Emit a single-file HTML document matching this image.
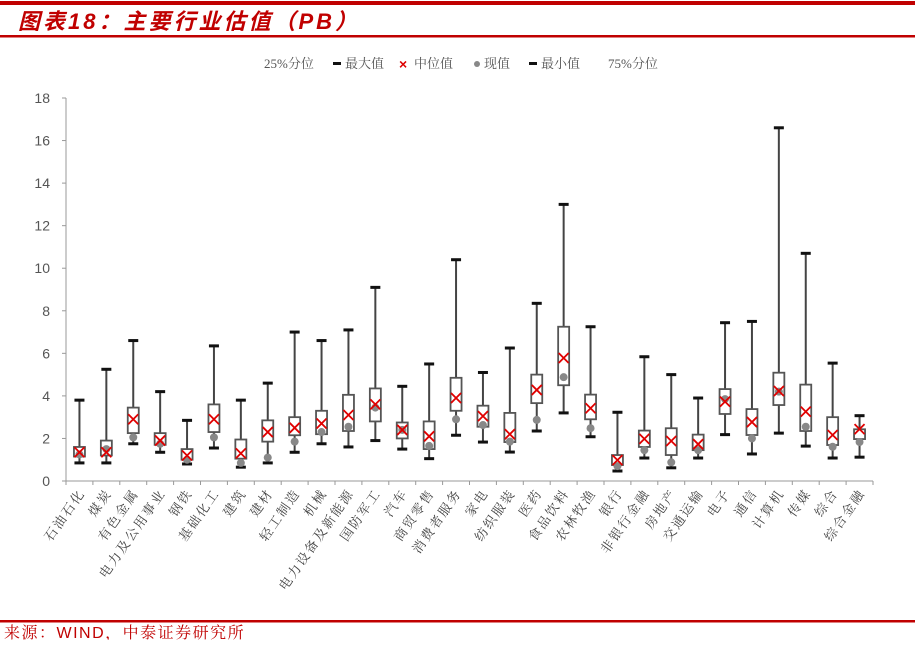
<!DOCTYPE html>
<html><head><meta charset="utf-8"><style>
body{margin:0;background:#fff;width:915px;height:640px;overflow:hidden;font-family:"Liberation Sans","Noto Sans CJK SC",sans-serif}
</style></head><body>
<svg id="c" width="915" height="640" xmlns="http://www.w3.org/2000/svg">
<rect x="0" y="1" width="915" height="4" fill="#c00000"/>
<text x="18" y="29" font-size="22" font-weight="bold" font-style="italic" letter-spacing="3" fill="#c00000" font-family="'Liberation Sans','Noto Sans CJK SC',sans-serif">图表18：主要行业估值（PB）</text>
<rect x="0" y="35" width="915" height="2.5" fill="#c00000"/>
<g font-family="'Liberation Serif','Noto Serif CJK SC',serif" font-size="13" fill="#555">
<text x="264" y="68">25%分位</text>
<rect x="333" y="62" width="8" height="3" fill="#111"/>
<text x="345" y="68">最大值</text>
<text x="399" y="69" fill="#d00" font-family="Liberation Sans" font-weight="bold" font-size="14">×</text>
<text x="414" y="68">中位值</text>
<circle cx="477" cy="64" r="3" fill="#888"/>
<text x="484" y="68">现值</text>
<rect x="529" y="62" width="8" height="3" fill="#111"/>
<text x="541" y="68">最小值</text>
<text x="608" y="68">75%分位</text>
</g>
<g id="plot"></g>
<rect x="0" y="620" width="915" height="2.5" fill="#c00000"/>
<text x="4" y="638" font-size="16" letter-spacing="1.5" fill="#c00000" font-family="'Liberation Sans','Noto Serif CJK SC',serif">来源：WIND，中泰证券研究所</text>
</svg>
<script>
const categories=["石油石化","煤炭","有色金属","电力及公用事业","钢铁","基础化工","建筑","建材","轻工制造","机械","电力设备及新能源","国防军工","汽车","商贸零售","消费者服务","家电","纺织服装","医药","食品饮料","农林牧渔","银行","非银行金融","房地产","交通运输","电子","通信","计算机","传媒","综合","综合金融"];
const maxVals=[3.8,5.25,6.6,4.2,2.85,6.35,3.8,4.6,7.0,6.6,7.1,9.1,4.45,5.5,10.4,5.1,6.25,8.35,13.0,7.25,3.23,5.84,5.0,3.9,7.44,7.5,16.6,10.7,5.54,3.07];
const q3Vals=[1.6,1.9,3.45,2.25,1.5,3.6,1.95,2.85,3.0,3.3,4.05,4.35,2.75,2.8,4.85,3.54,3.2,5.0,7.25,4.06,1.22,2.37,2.48,2.18,4.32,3.38,5.09,4.53,3.0,2.43];
const medianVals=[1.35,1.35,2.9,1.9,1.2,2.9,1.3,2.3,2.5,2.7,3.1,3.6,2.4,2.1,3.9,3.05,2.2,4.28,5.78,3.42,0.98,1.98,1.88,1.73,3.73,2.77,4.23,3.26,2.16,2.44];
const q1Vals=[1.15,1.2,2.25,1.7,1.0,2.3,1.05,1.85,2.15,2.2,2.35,2.8,2.0,1.5,3.3,2.55,1.83,3.66,4.5,2.9,0.75,1.6,1.22,1.45,3.15,2.16,3.57,2.35,1.69,1.97];
const minVals=[0.85,0.85,1.75,1.35,0.8,1.55,0.65,0.85,1.35,1.75,1.6,1.9,1.5,1.05,2.15,1.83,1.36,2.35,3.2,2.08,0.47,1.08,0.62,1.08,2.18,1.27,2.25,1.64,1.08,1.12];
const currentVals=[1.25,1.5,2.05,1.75,1.0,2.05,0.85,1.1,1.85,2.3,2.55,3.45,2.4,1.65,2.9,2.63,1.85,2.87,4.88,2.48,0.7,1.45,0.88,1.45,3.85,2.0,4.2,2.55,1.61,1.83];
const yTicks=[0,2,4,6,8,10,12,14,16,18];
const NS="http://www.w3.org/2000/svg";
const g=document.getElementById('plot');
const X0=66,X1=873,Y0=481,Y1=98;
const y=v=>Y0-(v/18)*(Y0-Y1);
const step=(X1-X0)/categories.length;
const x=i=>X0+step*(i+0.5);
function mk(t,a,p){const e=document.createElementNS(NS,t);for(const k in a)e.setAttribute(k,a[k]);(p||g).appendChild(e);return e;}
let ax=mk('line',{x1:X0,y1:Y1,x2:X0,y2:Y0,stroke:'#999','stroke-width':1});

let bx=mk('line',{x1:X0-4,y1:Y0,x2:X1,y2:Y0,stroke:'#999','stroke-width':1});

yTicks.forEach(t=>{
 let l=mk('line',{x1:X0-4,y1:y(t),x2:X0,y2:y(t),stroke:'#999'});
 
 let tx=mk('text',{x:X0-16,y:y(t)+5,'text-anchor':'end','font-size':14,fill:'#555'});
 tx.textContent=t;
 
});
for(let i=0;i<=categories.length;i++){
 let l=mk('line',{x1:X0+step*i,y1:Y0,x2:X0+step*i,y2:Y0+4,stroke:'#999'});
 
}
categories.forEach((c,i)=>{
 const cx=x(i);
 const grp=mk('g',{});
 
 
 let w=mk('line',{x1:cx,y1:y(maxVals[i]),x2:cx,y2:y(minVals[i]),stroke:'#444','stroke-width':2},grp);
 
 let b=mk('rect',{x:cx-5.5,y:y(q3Vals[i]),width:11,height:y(q1Vals[i])-y(q3Vals[i]),fill:'#fff',stroke:'#555','stroke-width':1.8},grp);
 
 let mx=mk('rect',{x:cx-5,y:y(maxVals[i])-1.5,width:10,height:3,fill:'#111'},grp);
 
 let mn=mk('rect',{x:cx-5,y:y(minVals[i])-1.5,width:10,height:3,fill:'#111'},grp);
 
 let cu=mk('circle',{cx:cx,cy:y(currentVals[i]),r:4,fill:'#888'},grp);
 
 const my=y(medianVals[i]);
 let m=mk('path',{d:`M${cx-5} ${my-5}L${cx+5} ${my+5}M${cx+5} ${my-5}L${cx-5} ${my+5}`,stroke:'#e00000','stroke-width':1.8,fill:'none'},grp);
 
 let t=mk('text',{x:0,y:0,'text-anchor':'end','font-size':13,'letter-spacing':2,fill:'#444','font-family':"'Liberation Serif','Noto Serif CJK SC',serif",transform:`translate(${cx+6},${Y0+12}) rotate(-55)`});
 t.textContent=c;
 
});
</script>
</body></html>
